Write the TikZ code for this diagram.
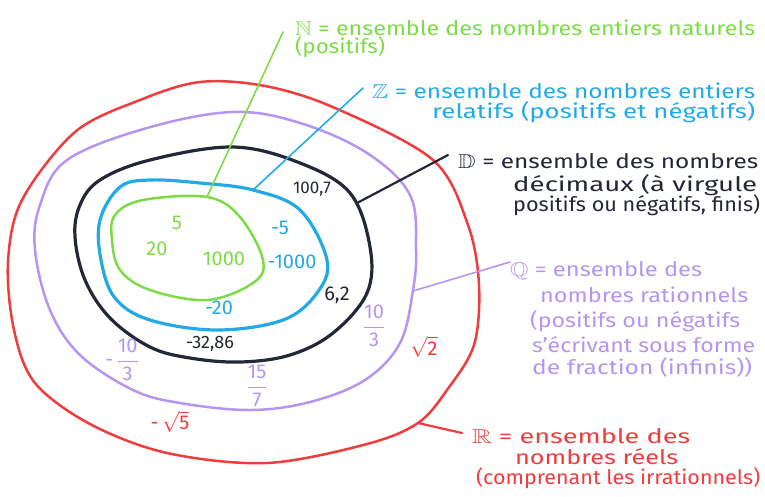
\documentclass[tikz,border=0pt]{standalone}
\usepackage{fontspec}
\usepackage{amsmath}
\usepackage{amssymb}
\setmainfont{Fira Sans}
\usetikzlibrary{positioning}
\definecolor{vertN}{RGB}{125,220,70}
\definecolor{bleuZ}{RGB}{35,170,230}
\definecolor{noirD}{RGB}{35,40,55}
\definecolor{violetQ}{RGB}{180,150,240}
\definecolor{rougeR}{RGB}{240,60,60}
% une ligne de texte manuscrit, largeur imposee
\newcommand{\ligne}[2]{\resizebox{#1pt}{\height}{#2}}
\tikzset{
  texte/.style={anchor=base west, inner sep=0pt, font=\fontsize{20}{22}\selectfont},
  nombre/.style={inner sep=0pt, font=\fontsize{20}{22}\selectfont},
  bord/.style={line width=2.5pt, line cap=round, line join=round},
  fil/.style={line width=1.6pt, line cap=round}
}

\begin{document}
\begin{tikzpicture}[x=1pt, y=-1pt]
  \useasboundingbox (0,0) rectangle (765,496);

  % les ensembles
  \draw[bord, rougeR] plot[smooth cycle, tension=0.55] coordinates {(200,82) (265,86) (335,108) (433,160) (468,225) (479,285) (474,345) (447,390) (418,423) (367,444) (267,463) (167,453) (90,424) (35,383) (14,330) (8,262) (22,200) (75,132) (140,100)};
  \draw[bord, violetQ] plot[smooth cycle, tension=0.6] coordinates {(233,112) (300,123) (367,153) (410,195) (416,250) (413,290) (400,343) (365,380) (310,402) (250,410) (180,403) (133,390) (80,355) (50,310) (35,250) (40,205) (67,160) (147,128)};
  \draw[bord, noirD, line width=3.2pt] plot[smooth cycle, tension=0.6] coordinates {(233,147) (300,163) (350,193) (370,247) (367,293) (333,333) (290,355) (240,362) (190,358) (150,347) (110,318) (85,280) (75,237) (80,205) (100,180) (150,160)};
  \draw[bord, bleuZ, line width=3.2pt] plot[smooth cycle, tension=0.6] coordinates {(150,180) (200,183) (253,190) (300,210) (327,260) (317,293) (283,320) (217,330) (150,320) (115,298) (101,260) (100,220) (120,187)};
  \draw[bord, vertN] plot[smooth cycle, tension=0.6] coordinates {(207,197) (240,217) (263,260) (253,283) (207,300) (150,290) (120,270) (112,240) (115,215) (143,200)};

  % points de depart des fils
  \coordinate (nbord) at (207,197);
  \coordinate (zbord) at (253,190);
  \coordinate (dbord) at (357,203);
  \coordinate (qbord) at (413,291);
  \coordinate (rbord) at (418,423);
  \coordinate (nfin) at (283,32);
  \coordinate (zfin) at (363,88);
  \coordinate (dfin) at (448,155);
  \coordinate (qfin) at (510,262);
  \coordinate (rfin) at (462,433);

  % N
  \node[texte, vertN] (ntitre) at (295,35) {\ligne{460}{$\mathbb{N}$ = ensemble des nombres entiers naturels}};
  \node[texte, vertN] (nsuite) at (295,53) {\ligne{90}{(positifs)}};
  % Z
  \node[texte, bleuZ] (ztitre) at (372,98) {\ligne{383}{$\mathbb{Z}$ = ensemble des nombres entiers}};
  \node[texte, bleuZ] (zsuite) at (432,118) {\ligne{323}{relatifs (positifs et négatifs)}};
  % D
  \node[texte, noirD] (dtitre) at (458,168) {\ligne{300}{$\mathbb{D}$ = ensemble des nombres}};
  \node[texte, noirD] (dsuite) at (513,191) {\ligne{244}{décimaux (à virgule}};
  \node[texte, noirD] (dfinis) at (513,211) {\ligne{247}{positifs ou négatifs, finis)}};
  % Q
  \node[texte, violetQ] (qtitre) at (510,276) {\ligne{192}{$\mathbb{Q}$ = ensemble des}};
  \node[texte, violetQ] (qsuite) at (540,302) {\ligne{208}{nombres rationnels}};
  \node[texte, violetQ] (qsigne) at (530,327) {\ligne{210}{(positifs ou négatifs}};
  \node[texte, violetQ] (qforme) at (532,352) {\ligne{223}{s'écrivant sous forme}};
  \node[texte, violetQ] (qfrac) at (532,374) {\ligne{220}{de fraction (infinis))}};
  % R
  \node[texte, rougeR] (rtitre) at (472,443) {\ligne{218}{$\mathbb{R}$ = ensemble des}};
  \node[texte, rougeR] (rsuite) at (515,464) {\ligne{163}{nombres réels}};
  \node[texte, rougeR] (rirrat) at (476,484) {\ligne{284}{(comprenant les irrationnels)}};

  % fils vers les legendes
  \draw[fil, vertN] (nbord) -- (nfin);
  \draw[fil, bleuZ] (zbord) -- (zfin);
  \draw[fil, noirD, line width=2.2pt] (dbord) -- (dfin);
  \draw[fil, violetQ] (qbord) -- (qfin);
  \draw[fil, rougeR, line width=2.2pt] (rbord) -- (rfin);

  % les nombres
  \node[nombre, vertN] (cinq) at (177,223) {5};
  \node[nombre, vertN] (vingt) at (157,249) {20};
  \node[nombre, vertN] (mille) at (224,259) {1000};
  \node[nombre, bleuZ] (mcinq) at (280,228) {-5};
  \node[nombre, bleuZ] (mmille) at (292,262) {-1000};
  \node[nombre, bleuZ] (mvingt) at (219,308) {-20};
  \node[nombre, noirD, font=\fontsize{17}{19}\selectfont] (cent) at (312,189) {100,7};
  \node[nombre, noirD] (sixdeux) at (337,295) {6,2};
  \node[nombre, noirD, font=\fontsize{18}{20}\selectfont] (trente) at (210,344) {-32,86};
  \node[nombre, violetQ] (dixtiers) at (374,326) {$\dfrac{\text{10}}{\text{3}}$};
  \node[nombre, violetQ] (mdixtiers) at (122,360) {-\,$\dfrac{\text{10}}{\text{3}}$};
  \node[nombre, violetQ] (quinze) at (257,386) {$\dfrac{\text{15}}{\text{7}}$};
  \node[nombre, rougeR] (racdeux) at (424,347) {$\sqrt{\text{2}}$};
  \node[nombre, rougeR] (racinq) at (170,422) {-\,$\sqrt{\text{5}}$};
\end{tikzpicture}
\end{document}
